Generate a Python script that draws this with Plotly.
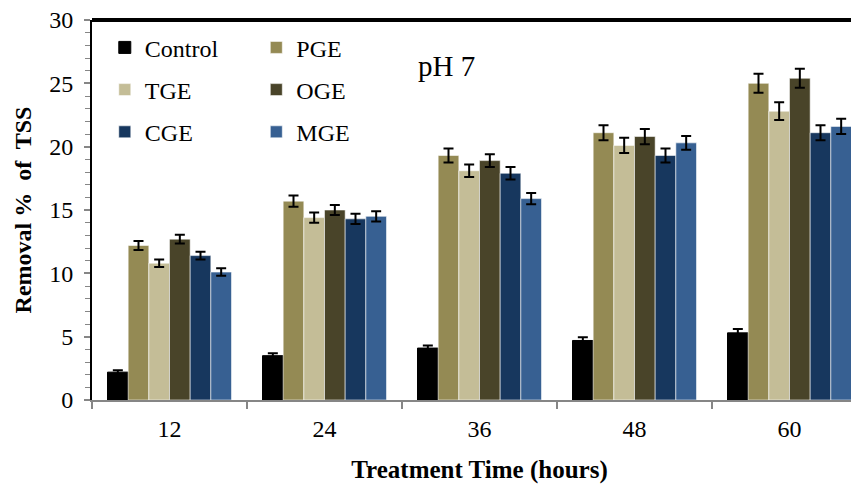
import plotly.graph_objects as go

categories = ["12", "24", "36", "48", "60"]
series_names = ["Control", "PGE", "TGE", "OGE", "CGE", "MGE"]
control = [2.2, 3.5, 4.1, 4.7, 5.3]
pge = [12.2, 15.7, 19.3, 21.1, 25.0]
tge = [10.8, 14.4, 18.1, 20.1, 22.8]
oge = [12.7, 15.0, 18.9, 20.8, 25.4]
cge = [11.4, 14.3, 17.9, 19.3, 21.1]
mge = [10.1, 14.5, 15.9, 20.3, 21.6]
control_err = [0.15, 0.2, 0.2, 0.25, 0.3]
pge_err = [0.35, 0.45, 0.55, 0.6, 0.75]
tge_err = [0.3, 0.4, 0.5, 0.6, 0.7]
oge_err = [0.35, 0.4, 0.5, 0.6, 0.75]
cge_err = [0.3, 0.4, 0.5, 0.55, 0.6]
mge_err = [0.3, 0.4, 0.45, 0.55, 0.6]
colors = ["#000000", "#948A54", "#C4BD97", "#494429", "#17375E", "#376092"]

values = [control, pge, tge, oge, cge, mge]
errors = [control_err, pge_err, tge_err, oge_err, cge_err, mge_err]
legend_ids = ["legend", "legend2", "legend", "legend2", "legend", "legend2"]

FONT = "Liberation Serif"

fig = go.Figure()
for name, vals, errs, col, lg in zip(series_names, values, errors, colors, legend_ids):
    fig.add_trace(go.Bar(
        x=categories, y=vals, name=name,
        marker=dict(color=col, line=dict(color="rgba(255,255,255,0.55)" if col != "#000000" else "#000000", width=1)),
        error_y=dict(type="data", array=errs, color="#000000", thickness=2, width=5),
        legend=lg, legendgroup=name,
    ))

legend_common = dict(
    font=dict(family=FONT, size=24, color="#000000"),
    bgcolor="rgba(0,0,0,0)", tracegroupgap=8, itemwidth=30,
    xanchor="left", yanchor="top", traceorder="grouped",
)

fig.update_layout(
    width=859, height=491,
    margin=dict(l=84, r=0, t=12, b=99, autoexpand=False),
    paper_bgcolor="white", plot_bgcolor="white",
    barmode="group", bargap=0.2, bargroupgap=0,
    font=dict(family=FONT, size=24, color="#000000"),
    legend=dict(x=0.0165, y=0.986, **legend_common),
    legend2=dict(x=0.212, y=0.986, **legend_common),
    xaxis=dict(
        range=[-0.5, 4.5], showline=True, linecolor="#868686", linewidth=2,
        ticks="outside", tickson="boundaries", ticklen=7, tickcolor="#868686", tickwidth=2,
        tickfont=dict(family=FONT, size=24), ticklabelstandoff=6, automargin=False,
        title=dict(text="<b>Treatment Time (hours)</b>", font=dict(family=FONT, size=25), standoff=20),
        showgrid=False, zeroline=False,
    ),
    yaxis=dict(
        range=[0, 30], tickvals=[0, 5, 10, 15, 20, 25, 30], showline=True, linecolor="#000000", linewidth=2,
        ticks="outside", ticklen=6, tickcolor="#868686", tickwidth=1.5,
        minor=dict(dtick=1, ticks="outside", ticklen=5, tickcolor="#868686", tickwidth=1.2, showgrid=False),
        tickfont=dict(family=FONT, size=24), ticklabelstandoff=6, automargin=False,
        ticklabeloverflow="allow",
        title=dict(text="<b>Removal %  of  TSS</b>", font=dict(family=FONT, size=24), standoff=11),
        showgrid=False, zeroline=False,
    ),
    shapes=[dict(type="line", xref="paper", yref="paper", x0=0, x1=1, y0=1, y1=1,
                 line=dict(color="#000000", width=4))],
    annotations=[dict(text="pH 7", xref="paper", yref="paper", x=0.457, y=0.878,
                      xanchor="center", yanchor="middle", showarrow=False,
                      font=dict(family=FONT, size=29, color="#000000"))],
)

fig.write_html("out.html")
